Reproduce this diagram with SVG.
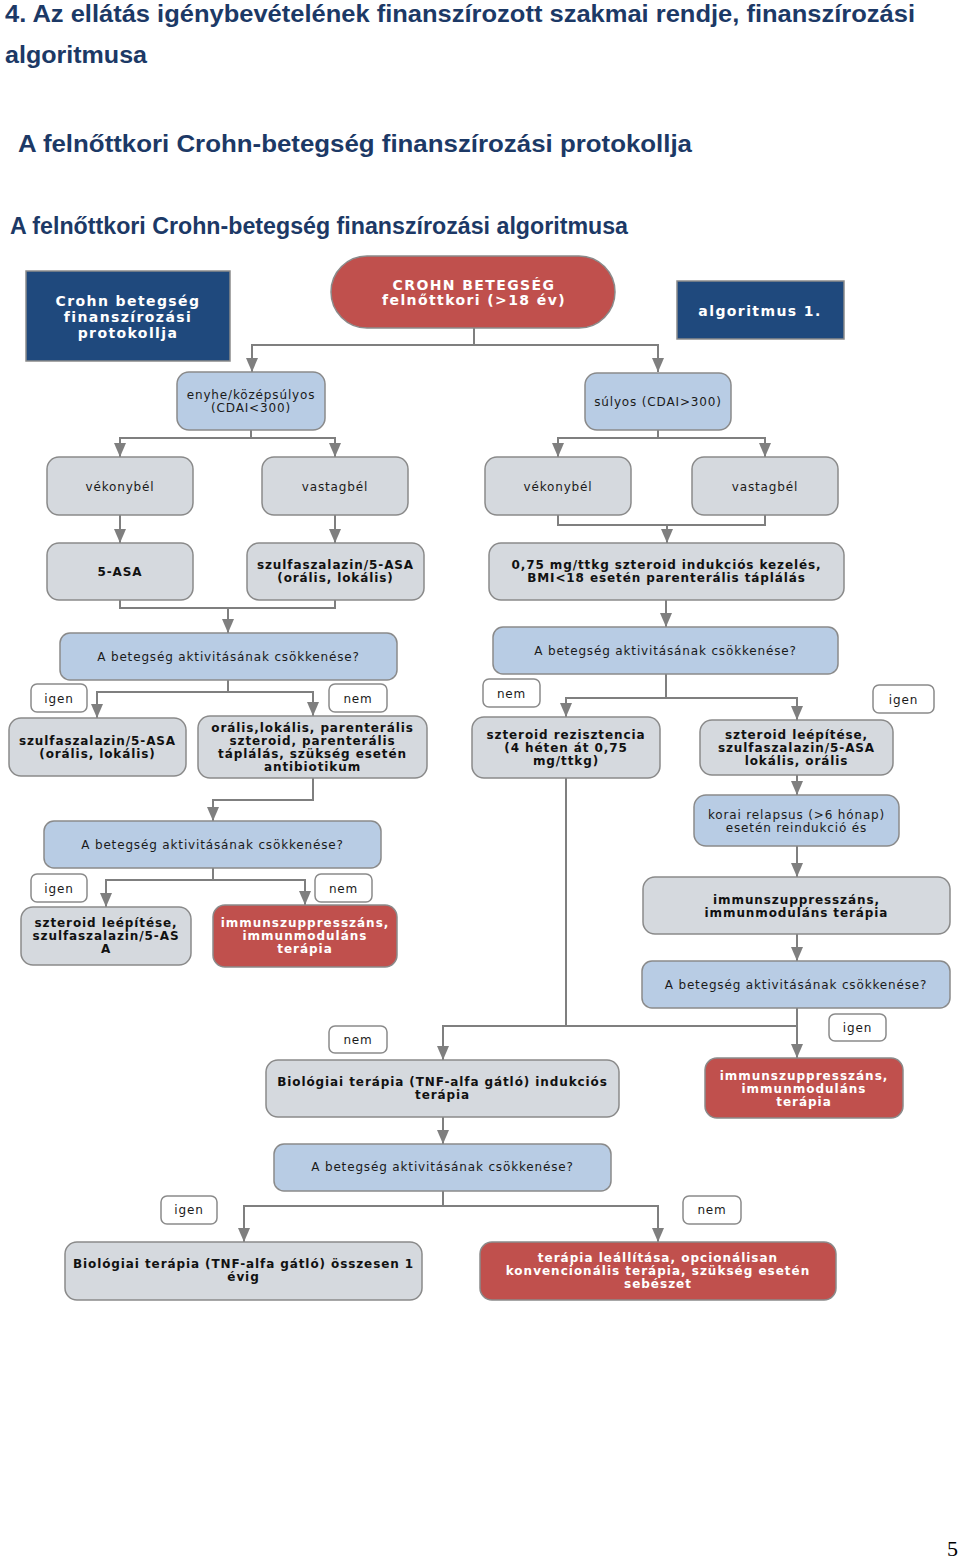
<svg xmlns="http://www.w3.org/2000/svg" width="960" height="1559" viewBox="0 0 960 1559">
<defs>
<style>
.hd{font-family:"Liberation Sans",Arial,sans-serif;font-weight:bold;fill:#1c3966}
.nd{stroke:#8a8a8a;stroke-width:1.5}
.db{fill:#1f497d}
.rd{fill:#c0504d}
.lb{fill:#b8cce4}
.gr{fill:#d5d9de}
.lab{fill:#ffffff}
.t{font-family:"DejaVu Sans",Verdana,sans-serif;font-size:12px;fill:#1a1a1a;text-anchor:middle;letter-spacing:0.85px}
.b{font-family:"DejaVu Sans",Verdana,sans-serif;font-size:12px;font-weight:bold;fill:#111111;text-anchor:middle;letter-spacing:0.9px}
.w{font-family:"DejaVu Sans",Verdana,sans-serif;font-size:12px;font-weight:bold;fill:#ffffff;text-anchor:middle;letter-spacing:1px}
.wl{font-family:"DejaVu Sans",Verdana,sans-serif;font-size:14px;font-weight:bold;fill:#ffffff;text-anchor:middle;letter-spacing:1.4px}
.cn{fill:none;stroke:#7f7f7f;stroke-width:2}
.ar{marker-end:url(#ah)}
</style>
<marker id="ah" markerUnits="userSpaceOnUse" markerWidth="14" markerHeight="12" refX="14" refY="6" orient="auto" viewBox="0 0 14 12">
<path d="M0,0 L14,6 L0,12 z" fill="#7f7f7f"/>
</marker>
</defs>
<rect width="960" height="1559" fill="#ffffff"/>

<g id="headings">
<text class="hd" x="5" y="22" font-size="24" textLength="910" lengthAdjust="spacingAndGlyphs">4. Az ellátás igénybevételének  finanszírozott szakmai rendje, finanszírozási</text>
<text class="hd" x="5" y="63" font-size="24" textLength="142" lengthAdjust="spacingAndGlyphs">algoritmusa</text>
<text class="hd" x="18" y="152" font-size="24" textLength="674" lengthAdjust="spacingAndGlyphs">A  felnőttkori Crohn-betegség  finanszírozási protokollja</text>
<text class="hd" x="10" y="234" font-size="23" textLength="618" lengthAdjust="spacingAndGlyphs">A felnőttkori Crohn-betegség finanszírozási algoritmusa</text>
<text x="947" y="1556" font-family="Liberation Serif,serif" font-size="22" fill="#000">5</text>
</g>

<g id="connectors">
<path class="cn ar" d="M474,328 V345 H252 V372"/>
<path class="cn ar" d="M474,345 H658 V372"/>
<path class="cn ar" d="M251,430 V438 H120 V457"/>
<path class="cn ar" d="M251,438 H335 V457"/>
<path class="cn ar" d="M658,430 V438 H558 V457"/>
<path class="cn ar" d="M658,438 H765 V457"/>
<path class="cn ar" d="M120,515 V543"/>
<path class="cn ar" d="M335,515 V543"/>
<path class="cn" d="M558,515 V525 H765 V515"/>
<path class="cn ar" d="M667,525 V543"/>
<path class="cn" d="M120,600 V608 H335 V600"/>
<path class="cn ar" d="M228,608 V633"/>
<path class="cn ar" d="M666,600 V627"/>
<path class="cn ar" d="M228,680 V692 H97 V718"/>
<path class="cn ar" d="M228,692 H313 V716"/>
<path class="cn ar" d="M313,778 V800 H213 V821"/>
<path class="cn ar" d="M213,868 V880 H106 V907"/>
<path class="cn ar" d="M213,880 H305 V905"/>
<path class="cn ar" d="M666,674 V698 H566 V717"/>
<path class="cn ar" d="M666,698 H797 V720"/>
<path class="cn ar" d="M797,775 V795"/>
<path class="cn ar" d="M797,846 V877"/>
<path class="cn ar" d="M797,934 V961"/>
<path class="cn ar" d="M566,778 V1026 H443 V1060"/>
<path class="cn" d="M566,1026 H797"/>
<path class="cn ar" d="M797,1008 V1058"/>
<path class="cn ar" d="M443,1117 V1144"/>
<path class="cn ar" d="M443,1191 V1206 H244 V1242"/>
<path class="cn ar" d="M443,1206 H658 V1242"/>
</g>

<g id="n-protokoll"><rect class="nd db" x="26" y="271" width="204" height="90"/>
<text class="wl" x="128" y="306">Crohn betegség</text><text class="wl" x="128" y="322">finanszírozási</text><text class="wl" x="128" y="338">protokollja</text></g>

<g id="n-crohn"><rect class="nd rd" x="331" y="256" width="284" height="72" rx="36"/>
<text class="wl" x="474" y="290" font-size="15" letter-spacing="1.8">CROHN BETEGSÉG</text><text class="wl" x="474" y="305" font-size="15" letter-spacing="1.8">felnőttkori (&gt;18 év)</text></g>

<g id="n-algoritmus"><rect class="nd db" x="677" y="281" width="167" height="58"/>
<text class="wl" x="760" y="316">algoritmus 1.</text></g>

<g id="n-enyhe"><rect class="nd lb" x="177" y="372" width="148" height="58" rx="12"/>
<text class="t" x="251" y="399">enyhe/középsúlyos</text><text class="t" x="251" y="412">(CDAI&lt;300)</text></g>

<g id="n-sulyos"><rect class="nd lb" x="585" y="373" width="146" height="57" rx="12"/>
<text class="t" x="658" y="406">súlyos (CDAI&gt;300)</text></g>

<g id="n-vekony1"><rect class="nd gr" x="47" y="457" width="146" height="58" rx="12"/>
<text class="t" x="120" y="491">vékonybél</text></g>
<g id="n-vastag1"><rect class="nd gr" x="262" y="457" width="146" height="58" rx="12"/>
<text class="t" x="335" y="491">vastagbél</text></g>
<g id="n-vekony2"><rect class="nd gr" x="485" y="457" width="146" height="58" rx="12"/>
<text class="t" x="558" y="491">vékonybél</text></g>
<g id="n-vastag2"><rect class="nd gr" x="692" y="457" width="146" height="58" rx="12"/>
<text class="t" x="765" y="491">vastagbél</text></g>

<g id="n-5asa"><rect class="nd gr" x="47" y="543" width="146" height="57" rx="12"/>
<text class="b" x="120" y="576">5-ASA</text></g>
<g id="n-szulfa1"><rect class="nd gr" x="247" y="543" width="177" height="57" rx="12"/>
<text class="b" x="335.5" y="569">szulfaszalazin/5-ASA</text><text class="b" x="335.5" y="582">(orális, lokális)</text></g>
<g id="n-szteroid-ind"><rect class="nd gr" x="489" y="543" width="355" height="57" rx="12"/>
<text class="b" x="666.5" y="569">0,75 mg/ttkg szteroid indukciós kezelés,</text><text class="b" x="666.5" y="582">BMI&lt;18 esetén parenterális táplálás</text></g>

<g id="n-q1"><rect class="nd lb" x="60" y="633" width="337" height="47" rx="10"/>
<text class="t" x="228.5" y="661">A betegség aktivitásának csökkenése?</text></g>
<g id="n-q2"><rect class="nd lb" x="493" y="627" width="345" height="47" rx="10"/>
<text class="t" x="665.5" y="655">A betegség aktivitásának csökkenése?</text></g>

<g id="l-igen1"><rect class="nd lab" x="31" y="684" width="56" height="28" rx="6"/><text class="t" x="59" y="703">igen</text></g>
<g id="l-nem1"><rect class="nd lab" x="329" y="684" width="58" height="28" rx="6"/><text class="t" x="358" y="703">nem</text></g>

<g id="n-szulfa2"><rect class="nd gr" x="9" y="718" width="177" height="58" rx="12"/>
<text class="b" x="97.5" y="745">szulfaszalazin/5-ASA</text><text class="b" x="97.5" y="758">(orális, lokális)</text></g>
<g id="n-oralis"><rect class="nd gr" x="198" y="716" width="229" height="62" rx="12"/>
<text class="b" x="312.5" y="732">orális,lokális, parenterális</text><text class="b" x="312.5" y="745">szteroid, parenterális</text><text class="b" x="312.5" y="758">táplálás, szükség esetén</text><text class="b" x="312.5" y="771">antibiotikum</text></g>

<g id="n-q3"><rect class="nd lb" x="44" y="821" width="337" height="47" rx="10"/>
<text class="t" x="212.5" y="849">A betegség aktivitásának csökkenése?</text></g>
<g id="l-igen2"><rect class="nd lab" x="31" y="874" width="56" height="28" rx="6"/><text class="t" x="59" y="893">igen</text></g>
<g id="l-nem2"><rect class="nd lab" x="315" y="874" width="57" height="28" rx="6"/><text class="t" x="343.5" y="893">nem</text></g>

<g id="n-szteroid-leep1"><rect class="nd gr" x="21" y="907" width="170" height="58" rx="12"/>
<text class="b" x="106" y="927">szteroid leépítése,</text><text class="b" x="106" y="940">szulfaszalazin/5-AS</text><text class="b" x="106" y="953">A</text></g>
<g id="n-immun1"><rect class="nd rd" x="213" y="905" width="184" height="62" rx="12"/>
<text class="w" x="305" y="927">immunszuppresszáns,</text><text class="w" x="305" y="940">immunmoduláns</text><text class="w" x="305" y="953">terápia</text></g>

<g id="l-nem3"><rect class="nd lab" x="483" y="679" width="57" height="28" rx="6"/><text class="t" x="511.5" y="698">nem</text></g>
<g id="l-igen3"><rect class="nd lab" x="873" y="685" width="61" height="28" rx="6"/><text class="t" x="903.5" y="704">igen</text></g>

<g id="n-rezisztencia"><rect class="nd gr" x="472" y="717" width="188" height="61" rx="12"/>
<text class="b" x="566" y="739">szteroid rezisztencia</text><text class="b" x="566" y="752">(4 héten át 0,75</text><text class="b" x="566" y="765">mg/ttkg)</text></g>
<g id="n-szteroid-leep2"><rect class="nd gr" x="700" y="720" width="193" height="55" rx="12"/>
<text class="b" x="796.5" y="739">szteroid leépítése,</text><text class="b" x="796.5" y="752">szulfaszalazin/5-ASA</text><text class="b" x="796.5" y="765">lokális, orális</text></g>
<g id="n-relapsus"><rect class="nd lb" x="694" y="795" width="205" height="51" rx="12"/>
<text class="t" x="796.5" y="819">korai relapsus (&gt;6 hónap)</text><text class="t" x="796.5" y="832">esetén reindukció és</text></g>
<g id="n-immun2"><rect class="nd gr" x="643" y="877" width="307" height="57" rx="12"/>
<text class="b" x="796.5" y="904">immunszuppresszáns,</text><text class="b" x="796.5" y="917">immunmoduláns terápia</text></g>
<g id="n-q4"><rect class="nd lb" x="642" y="961" width="308" height="47" rx="10"/>
<text class="t" x="796" y="989">A betegség aktivitásának csökkenése?</text></g>

<g id="l-nem4"><rect class="nd lab" x="329" y="1026" width="58" height="27" rx="6"/><text class="t" x="358" y="1044">nem</text></g>
<g id="l-igen4"><rect class="nd lab" x="829" y="1014" width="57" height="27" rx="6"/><text class="t" x="857.5" y="1032">igen</text></g>

<g id="n-bio-ind"><rect class="nd gr" x="266" y="1060" width="353" height="57" rx="12"/>
<text class="b" x="442.5" y="1086">Biológiai terápia (TNF-alfa gátló) indukciós</text><text class="b" x="442.5" y="1099">terápia</text></g>
<g id="n-immun3"><rect class="nd rd" x="705" y="1058" width="198" height="60" rx="12"/>
<text class="w" x="804" y="1080">immunszuppresszáns,</text><text class="w" x="804" y="1093">immunmoduláns</text><text class="w" x="804" y="1106">terápia</text></g>

<g id="n-q5"><rect class="nd lb" x="274" y="1144" width="337" height="47" rx="10"/>
<text class="t" x="442.5" y="1171">A betegség aktivitásának csökkenése?</text></g>
<g id="l-igen5"><rect class="nd lab" x="161" y="1196" width="56" height="28" rx="6"/><text class="t" x="189" y="1214">igen</text></g>
<g id="l-nem5"><rect class="nd lab" x="683" y="1196" width="58" height="28" rx="6"/><text class="t" x="712" y="1214">nem</text></g>

<g id="n-bio-1ev"><rect class="nd gr" x="65" y="1242" width="357" height="58" rx="12"/>
<text class="b" x="243.5" y="1268">Biológiai terápia (TNF-alfa gátló) összesen 1</text><text class="b" x="243.5" y="1281">évig</text></g>
<g id="n-leallitas"><rect class="nd rd" x="480" y="1242" width="356" height="58" rx="12"/>
<text class="w" x="658" y="1262">terápia leállítása, opcionálisan</text><text class="w" x="658" y="1275">konvencionális terápia, szükség esetén</text><text class="w" x="658" y="1288">sebészet</text></g>
</svg>
